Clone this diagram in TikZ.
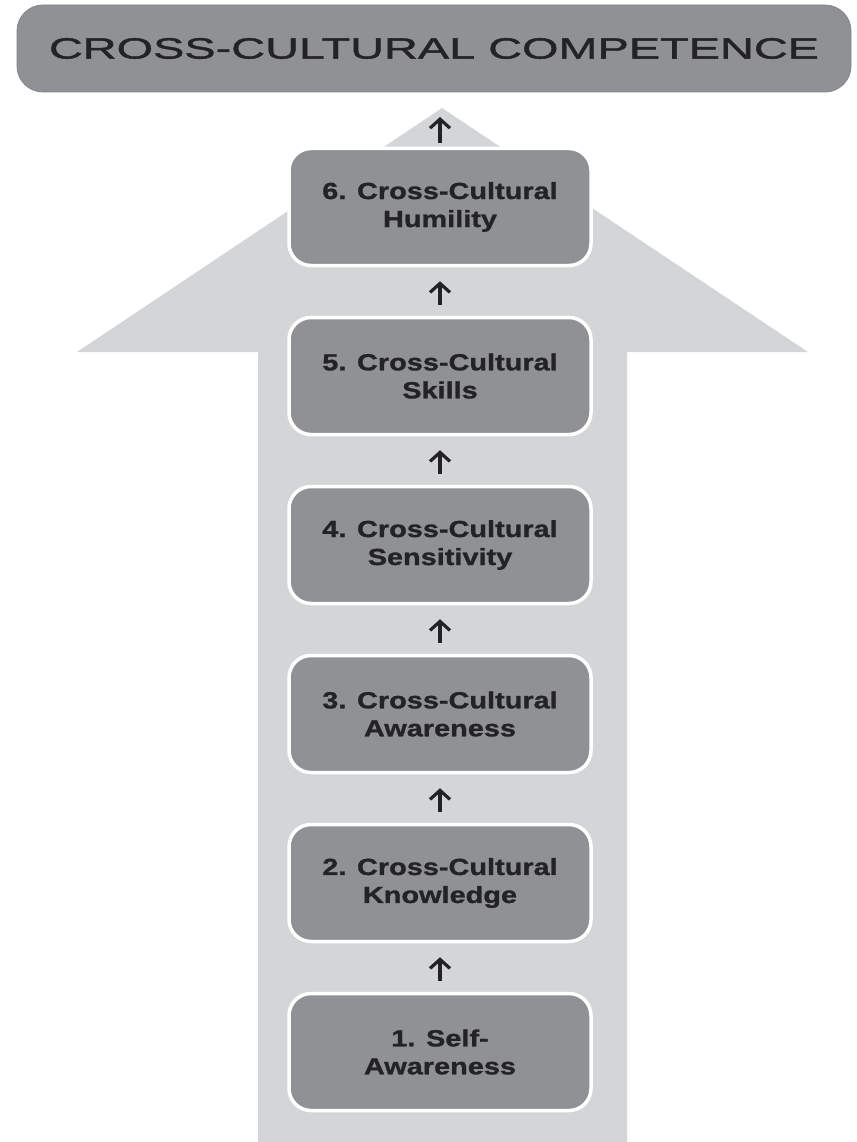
\documentclass[tikz,border=0pt]{standalone}
\usepackage{fontspec}
\usepackage{tikz}
\usetikzlibrary{shapes,arrows.meta}
\newfontfamily\stagefont[FakeStretch=1.24,FakeBold=1.2]{Liberation Sans}
\newfontfamily\headfont[FakeStretch=1.6,FakeBold=1.4]{Liberation Sans}
\definecolor{arrowgray}{HTML}{D4D5D7}
\definecolor{boxgray}{HTML}{909195}
\definecolor{edgegray}{HTML}{838488}
\definecolor{inkdark}{HTML}{222227}

\begin{document}
\begin{tikzpicture}[x=1pt, y=-1pt, node distance=169pt, >={Straight Barb[length=9pt,width=20pt]}]
	\tikzstyle{stage}=[rectangle, rounded corners=22pt, fill=boxgray, draw=white, line width=3.5pt,
		minimum width=302pt, minimum height=117pt, align=center, text=inkdark,
		font=\stagefont\bfseries\fontsize{23.3}{28}\selectfont]
	\tikzstyle{climb}=[->, draw=inkdark, line width=3.2pt, shorten <=11pt, shorten >=14pt]
	\useasboundingbox (0,0) rectangle (856,1142);
	% big arrow behind the steps
	\fill[arrowgray] (258,1142) -- (258,352) -- (77,352) -- (442,108) -- (808,352) -- (627,352) -- (627,1142) -- cycle;
	\node[rectangle, rounded corners=26pt, fill=boxgray, draw=edgegray, line width=0.8pt,
		minimum width=834pt, minimum height=87pt, text=inkdark,
		font=\headfont\fontsize{29.3}{32}\selectfont] (competence) at (434,48.5) {CROSS-CULTURAL COMPETENCE};
	\node[stage] (self) at (440,1052) {1. Self-\\Awareness};
	\node[stage] (knowledge) [above of=self] {2. Cross-Cultural\\Knowledge};
	\node[stage] (awareness) [above of=knowledge] {3. Cross-Cultural\\Awareness};
	\node[stage] (sensitivity) [above of=awareness] {4. Cross-Cultural\\Sensitivity};
	\node[stage] (skills) [above of=sensitivity] {5. Cross-Cultural\\Skills};
	\node[stage] (humility) [above of=skills] {6. Cross-Cultural\\Humility};
	\coordinate (peak) at (440,117);

	\path (self) edge[climb] (knowledge);
	\path (knowledge) edge[climb] (awareness);
	\path (awareness) edge[climb] (sensitivity);
	\path (sensitivity) edge[climb] (skills);
	\path (skills) edge[climb] (humility);
	\path (humility) edge[climb, shorten <=4pt, shorten >=0pt] (peak);
\end{tikzpicture}
\end{document}
